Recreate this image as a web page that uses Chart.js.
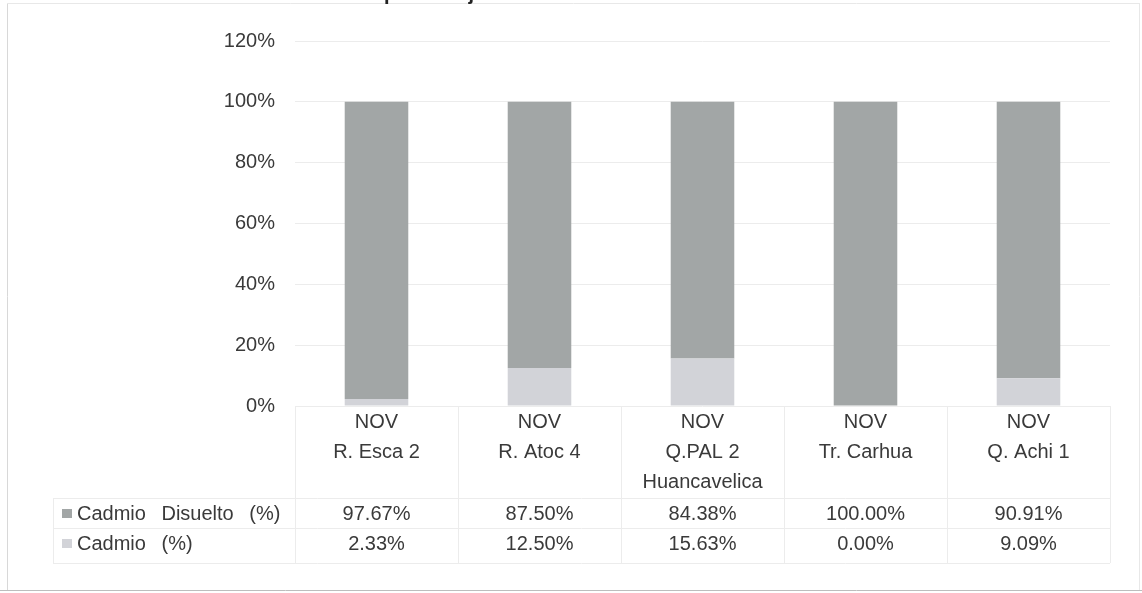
<!DOCTYPE html>
<html>
<head>
<meta charset="utf-8">
<script src="https://cdn.jsdelivr.net/npm/chart.js@4"></script>
<style>
html,body{margin:0;padding:0;background:#fff;}
#wrap{width:1142px;height:593px;position:relative;}
</style>
</head>
<body>
<div id="wrap"><canvas id="c" width="1142" height="593"></canvas></div>
<script>
// ---- data ----
const months = ["NOV", "NOV", "NOV", "NOV", "NOV"];
const stations = [["R. Esca 2"], ["R. Atoc 4"], ["Q.PAL 2", "Huancavelica"], ["Tr. Carhua"], ["Q. Achi 1"]];
const cadmioDisuelto = [97.67, 87.50, 84.38, 100.00, 90.91];
const cadmio = [2.33, 12.50, 15.63, 0.00, 9.09];
const seriesNames = ["Cadmio Disuelto (%)", "Cadmio (%)"];
const yTickValues = [0, 20, 40, 60, 80, 100, 120];
const titleText = "porcentaje de Cadmio Disuelto";

const labels = months.map((m, i) => [m].concat(stations[i]));
const darkColor = "#a2a6a6";
const lightColor = "#d2d3d8";
const textColor = "#3a3a3a";
const FONT = "Liberation Sans, Arial, sans-serif";

const tablePlugin = {
  id: "tablePlugin",
  beforeDraw(chart) {
    const ctx = chart.ctx;
    ctx.save();
    // outer frame
    ctx.strokeStyle = "#d8d8d8";
    ctx.lineWidth = 1;
    ctx.beginPath();
    ctx.moveTo(7.5, 3); ctx.lineTo(7.5, 590);
    ctx.stroke();
    ctx.strokeStyle = "#e8e8e8";
    ctx.beginPath();
    ctx.moveTo(7, 3.5); ctx.lineTo(1140, 3.5);
    ctx.moveTo(1139.5, 3); ctx.lineTo(1139.5, 590);
    ctx.stroke();
    ctx.strokeStyle = "#bdbdbd";
    ctx.beginPath();
    ctx.moveTo(0, 590.5); ctx.lineTo(1142, 590.5);
    ctx.stroke();
    ctx.restore();
  },
  afterDraw(chart) {
    const ctx = chart.ctx;
    const x = chart.scales.x;
    const area = chart.chartArea;
    const n = labels.length;
    const colW = (area.right - area.left) / n;
    ctx.save();
    // title (clipped at the top like the reference)
    ctx.font = "bold 20px " + FONT;
    ctx.fillStyle = "#222";
    ctx.textAlign = "left";
    ctx.textBaseline = "alphabetic";
    ctx.fillText(titleText, 384, 0);

    // table grid lines
    ctx.strokeStyle = "#ececec";
    ctx.lineWidth = 1;
    ctx.beginPath();
    for (let i = 0; i <= n; i++) {
      const xx = Math.round(area.left + i * colW) + 0.5;
      ctx.moveTo(xx, area.bottom);
      ctx.lineTo(xx, 563);
    }
    ctx.moveTo(53, 498.5); ctx.lineTo(area.right, 498.5);
    ctx.moveTo(53, 528.5); ctx.lineTo(area.right, 528.5);
    ctx.moveTo(53, 563.5); ctx.lineTo(area.right, 563.5);
    ctx.moveTo(53.5, 498); ctx.lineTo(53.5, 563);
    ctx.stroke();

    const rows = [
      { name: seriesNames[0], values: cadmioDisuelto, color: darkColor, y: 514 },
      { name: seriesNames[1], values: cadmio, color: lightColor, y: 544 }
    ];
    ctx.font = "20px " + FONT;
    ctx.textBaseline = "middle";
    rows.forEach(r => {
      ctx.fillStyle = r.color;
      ctx.fillRect(62, r.y - 5, 10, 9);
      ctx.fillStyle = textColor;
      ctx.textAlign = "left";
      if ('wordSpacing' in ctx) ctx.wordSpacing = "10px";
      ctx.fillText(r.name, 77, r.y);
      if ('wordSpacing' in ctx) ctx.wordSpacing = "0px";
      ctx.textAlign = "center";
      r.values.forEach((v, i) => {
        ctx.fillText(v.toFixed(2) + "%", x.getPixelForValue(i), r.y);
      });
    });
    ctx.restore();
  }
};

new Chart(document.getElementById("c"), {
  type: "bar",
  data: {
    labels: labels,
    datasets: [
      { label: seriesNames[1], data: cadmio, backgroundColor: lightColor, borderWidth: 0 },
      { label: seriesNames[0], data: cadmioDisuelto, backgroundColor: darkColor, borderWidth: 0 }
    ]
  },
  options: {
    responsive: false,
    animation: false,
    events: [],
    layout: { padding: { top: 41, right: 32, left: 0, bottom: 0 } },
    plugins: {
      legend: { display: false },
      title: { display: false },
      tooltip: { enabled: false }
    },
    datasets: { bar: { categoryPercentage: 1.0, barPercentage: 0.39 } },
    scales: {
      x: {
        stacked: true,
        grid: { display: false, drawTicks: false },
        border: { display: false },
        ticks: {
          color: textColor,
          font: { family: FONT, size: 20, lineHeight: "30px" },
          padding: 1,
          maxRotation: 0,
          autoSkip: false
        },
        afterFit(s) { s.height = 187; }
      },
      y: {
        stacked: true,
        min: 0,
        max: 120,
        afterBuildTicks(s) { s.ticks = yTickValues.map(v => ({ value: v })); },
        grid: { color: "#ececec", drawTicks: false },
        border: { display: false },
        ticks: {
          color: textColor,
          font: { family: FONT, size: 20 },
          padding: 20,
          callback: v => v + "%"
        },
        afterFit(s) { s.width = 295; }
      }
    }
  },
  plugins: [tablePlugin]
});
</script>
</body>
</html>
